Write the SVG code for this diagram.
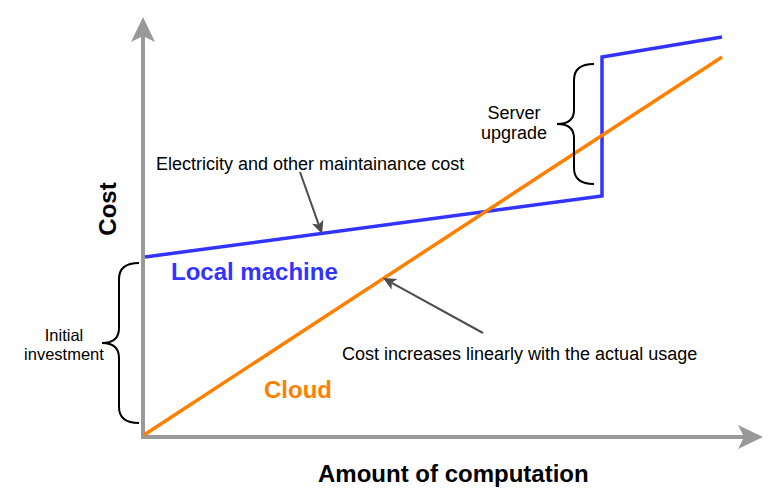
<svg xmlns="http://www.w3.org/2000/svg" width="782" height="496" viewBox="0 0 782 496">
<style>
text{font-family:"Liberation Sans",Arial,sans-serif;fill:#000}
.lbl{font-size:18px}
.big{font-size:24px;font-weight:bold}
.axis{stroke:#999999;stroke-width:4;fill:none}
.ptr{stroke:#4D4D4D;stroke-width:2;fill:none}
.brace{stroke:#000;stroke-width:2;fill:none}
.blue{stroke:#3333FF;stroke-width:3.5;fill:none;stroke-linejoin:miter}
.orange{stroke:#FF8000;stroke-width:3.5;fill:none}
</style>
<defs>
<marker id="axisHead" markerUnits="userSpaceOnUse" viewBox="-26 -13 27 26" markerWidth="27" markerHeight="26" refX="-19" refY="0" orient="auto">
<path d="M0,0 L-25,-12 L-19,0 L-25,12 Z" fill="#999999"/>
</marker>
<marker id="ptrHead" markerUnits="userSpaceOnUse" viewBox="-14 -7 15 14" markerWidth="15" markerHeight="14" refX="-10" refY="0" orient="auto">
<path d="M0,0 L-13,-6 L-10,0 L-13,6 Z" fill="#4D4D4D"/>
</marker>
</defs>
<rect width="782" height="496" fill="#ffffff"/>
<g id="connectors">
<path class="axis" d="M143,437 L143,36" marker-end="url(#axisHead)"/>
<path class="axis" d="M141,437 L744,437" marker-end="url(#axisHead)"/>
<path class="blue" d="M145,257 L602,196 L602,57 L722,37"/>
<path class="orange" d="M144,435 L722,57"/>
<path class="ptr" d="M300,172 L318.7,224.6" marker-end="url(#ptrHead)"/>
<path class="ptr" d="M483,333 L391.8,282.8" marker-end="url(#ptrHead)"/>
</g>
<g id="brace-investment">
<path class="brace" d="M139,263 Q119,263 119,279 L119,328 Q119,343 102,343 Q119,343 119,358 L119,407 Q119,423 139,423"/>
</g>
<g id="brace-upgrade">
<path class="brace" d="M594,64 Q574,64 574,80 L574,110 Q574,124 557,124 Q574,124 574,138 L574,168 Q574,184 594,184"/>
</g>
<g id="label-cost">
<text class="big" text-anchor="middle" transform="translate(116,209) rotate(-90)">Cost</text>
</g>
<g id="label-amount">
<text class="big" x="318" y="482">Amount of computation</text>
</g>
<g id="label-local">
<text class="big" x="171" y="280" style="fill:#3333FF">Local machine</text>
</g>
<g id="label-cloud">
<text class="big" x="264" y="398" style="fill:#FF8000">Cloud</text>
</g>
<g id="label-electricity">
<text class="lbl" x="156" y="170">Electricity and other maintainance cost</text>
</g>
<g id="label-usage">
<text class="lbl" x="342" y="360">Cost increases linearly with the actual usage</text>
</g>
<g id="label-initial">
<text class="lbl" text-anchor="middle" style="font-size:16.5px"><tspan x="64" y="341">Initial</tspan><tspan x="64" y="360">investment</tspan></text>
</g>
<g id="label-upgrade">
<text class="lbl" text-anchor="middle"><tspan x="514" y="119">Server</tspan><tspan x="514" y="139">upgrade</tspan></text>
</g>
</svg>
